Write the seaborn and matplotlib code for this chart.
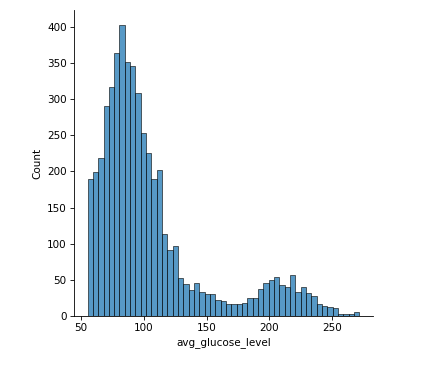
import numpy as np
import pandas as pd
import matplotlib
matplotlib.use("Agg")
import matplotlib.pyplot as plt
import seaborn as sns

# Histogram bin range and counts
x_min = 55.12
x_max = 271.74
counts = [190, 199, 219, 290, 316, 363, 403, 351, 345, 309,
          253, 226, 189, 202, 113, 92, 97, 53, 44, 36,
          46, 33, 31, 31, 22, 21, 17, 17, 17, 18,
          25, 25, 38, 46, 50, 54, 43, 40, 57, 34,
          40, 32, 28, 17, 14, 13, 11, 3, 3, 3, 5]

n_bins = len(counts)
width = (x_max - x_min) / n_bins
centers = x_min + width * (np.arange(n_bins) + 0.5)
df = pd.DataFrame({"avg_glucose_level": centers, "w": counts})

g = sns.displot(data=df, x="avg_glucose_level", weights="w",
                bins=n_bins, binrange=(x_min, x_max))
fig = g.figure
fig.set_size_inches(435 / 75, 368 / 75)
ax = g.ax
ax.set_position([0.170, 0.141, 0.687, 0.832])
ax.set_ylabel("Count")
ax.set_xlabel("avg_glucose_level")
fig.savefig("out.png", dpi=75)
